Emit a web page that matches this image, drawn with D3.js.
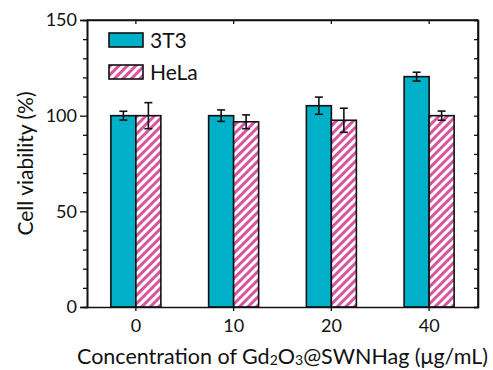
<!DOCTYPE html>
<html>
<head>
<meta charset="utf-8">
<script src="https://cdn.jsdelivr.net/npm/d3@7"></script>
<style>
  body { margin: 0; background: #fff; }
  svg { display: block; font-family: Lato, "Open Sans", sans-serif; }
</style>
</head>
<body>
<svg id="chart" width="493" height="370"></svg>
<script>
// Data
const concentrations = ['0', '10', '20', '40'];
const series = ['3T3', 'HeLa'];
const viability3T3 = [100, 100, 105.2, 120.4];
const error3T3 = [2.3, 3, 4.5, 2.3];
const viabilityHeLa = [100, 96.8, 97.6, 100];
const errorHeLa = [6.8, 3.6, 6.3, 2.4];
const yTicks = [0, 50, 100, 150];

const translate = (x, y) => `translate(${x}, ${y})`;

const width = 493, height = 370;
const margins = { top: 20, right: 15, bottom: 63, left: 87 };
const innerW = width - margins.left - margins.right;
const innerH = height - margins.top - margins.bottom;

const teal = '#00AFC8';
const pink = '#D8559E';

const svg = d3.select('#chart');

// hatch pattern for HeLa
const defs = svg.append('defs');
const pat = defs.append('pattern')
    .attr('id', 'hatch')
    .attr('patternUnits', 'userSpaceOnUse')
    .attr('width', 6)
    .attr('height', 6)
    .attr('patternTransform', 'rotate(45)');
pat.append('rect').attr('width', 6).attr('height', 6).attr('fill', '#fff');
pat.append('rect').attr('width', 3).attr('height', 6).attr('fill', pink);

const g = svg.append('g').attr('transform', translate(margins.left, margins.top));

// scales
const x = d3.scaleBand().domain(concentrations).range([0, innerW]);
const xSub = d3.scaleBand().domain(series).range([x.bandwidth() / 2 - 25, x.bandwidth() / 2 + 25]);
const y = d3.scaleLinear().domain([0, 150]).range([innerH, 0]);

const rows = concentrations.map((c, i) => ({
    c,
    vals: [
        { s: '3T3', v: viability3T3[i], e: error3T3[i] },
        { s: 'HeLa', v: viabilityHeLa[i], e: errorHeLa[i] },
    ]
}));

// bars
const groups = g.selectAll('g.cat')
    .data(rows)
    .join('g')
    .attr('class', 'cat')
    .attr('transform', d => translate(x(d.c), 0));

groups.selectAll('rect')
    .data(d => d.vals)
    .join('rect')
    .attr('x', d => xSub(d.s))
    .attr('y', d => y(d.v))
    .attr('width', xSub.bandwidth())
    .attr('height', d => innerH - y(d.v))
    .attr('fill', d => d.s === '3T3' ? teal : 'url(#hatch)')
    .attr('stroke', '#111')
    .attr('stroke-width', 1.6);

// error bars
const err = groups.selectAll('g.err')
    .data(d => d.vals)
    .join('g')
    .attr('class', 'err')
    .attr('stroke', '#111')
    .attr('stroke-width', 1.6);
err.append('line')
    .attr('x1', d => xSub(d.s) + xSub.bandwidth() / 2)
    .attr('x2', d => xSub(d.s) + xSub.bandwidth() / 2)
    .attr('y1', d => y(d.v + d.e))
    .attr('y2', d => y(d.v - d.e));
['plus', 'minus'].forEach(k => {
    err.append('line')
        .attr('x1', d => xSub(d.s) + xSub.bandwidth() / 2 - 4)
        .attr('x2', d => xSub(d.s) + xSub.bandwidth() / 2 + 4)
        .attr('y1', d => y(k === 'plus' ? d.v + d.e : d.v - d.e))
        .attr('y2', d => y(k === 'plus' ? d.v + d.e : d.v - d.e));
});

// axes
const fontSize = 18;
g.append('g')
    .call(d3.axisLeft(y).tickValues(yTicks).tickSize(7).tickPadding(3));
g.append('g')
    .call(d3.axisLeft(y).tickValues(d3.range(0, 151, 10).filter(v => v % 50)).tickSize(4).tickFormat(''));
const rightAxis = g.append('g').attr('transform', translate(innerW, 0));
rightAxis.call(d3.axisLeft(y).tickValues(d3.range(0, 151, 10)).tickSize(4).tickFormat(''));
rightAxis.selectAll('.tick line').attr('x2', -4);

g.append('g')
    .attr('transform', translate(0, innerH))
    .call(d3.axisBottom(x).tickSize(4).tickPadding(8).tickSizeOuter(0));
g.append('g')
    .call(d3.axisBottom(x).tickSize(4).tickFormat('').tickSizeOuter(0));

g.selectAll('.domain').attr('stroke', '#111').attr('stroke-width', 1.6);
g.selectAll('.tick line').attr('stroke', '#111').attr('stroke-width', 1.3);
g.selectAll('.tick text').attr('font-size', fontSize).attr('fill', '#111').attr('font-family', 'Lato, sans-serif');

// frame lines
g.append('line').attr('x1', 0).attr('x2', innerW).attr('y1', 0).attr('y2', 0)
    .attr('stroke', '#111').attr('stroke-width', 1.6);
g.append('line').attr('x1', innerW).attr('x2', innerW).attr('y1', 0).attr('y2', innerH)
    .attr('stroke', '#111').attr('stroke-width', 1.6);

// legend
const legend = g.append('g').attr('transform', translate(22, 13));
series.forEach((s, i) => {
    const row = legend.append('g').attr('transform', translate(0, i * 32));
    row.append('rect')
        .attr('width', 34).attr('height', 14)
        .attr('fill', s === '3T3' ? teal : 'url(#hatch)')
        .attr('stroke', '#111').attr('stroke-width', 1.6);
    row.append('text')
        .attr('x', 41).attr('y', 14.5)
        .attr('font-size', 21)
        .attr('fill', '#111')
        .text(s);
});

// axis titles
svg.append('text')
    .attr('transform', `translate(33, ${margins.top + innerH / 2}) rotate(-90)`)
    .attr('text-anchor', 'middle')
    .attr('font-size', 21)
    .attr('fill', '#111')
    .text('Cell viability (%)');

const xt = svg.append('text')
    .attr('x', margins.left + innerW / 2)
    .attr('y', 364)
    .attr('text-anchor', 'middle')
    .attr('font-size', 21.5)
    .attr('fill', '#111');
xt.append('tspan').text('Concentration of Gd');
xt.append('tspan').attr('font-size', 14).attr('dy', 1).text('2');
xt.append('tspan').attr('dy', -1).text('O');
xt.append('tspan').attr('font-size', 14).attr('dy', 1).text('3');
xt.append('tspan').attr('dy', -1).text('@SWNHag (μg/mL)');
</script>
</body>
</html>
